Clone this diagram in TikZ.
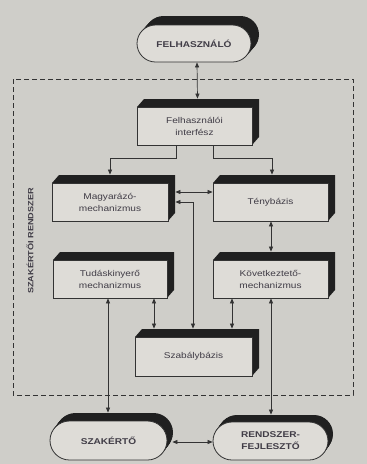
\documentclass[tikz,border=0pt]{standalone}
\usepackage{fontspec}
\newfontfamily\lab[FakeStretch=1.2]{Liberation Sans}
\usetikzlibrary{calc,arrows.meta}
\definecolor{bgc}{HTML}{CFCEC9}
\definecolor{facec}{HTML}{DEDCD7}
\definecolor{shc}{HTML}{202020}
\definecolor{linec}{HTML}{333333}
\definecolor{txtc}{HTML}{403C46}
\tikzset{
  ebx/.style={draw=linec, line width=0.8pt, fill=facec, rectangle, inner sep=0pt,
    align=center, text=txtc, font=\lab\fontsize{8.4}{12}\selectfont},
  pillbx/.style={ebx, font=\lab\bfseries\fontsize{8.4}{12}\selectfont},
  conn/.style={draw=linec, line width=0.7pt},
  arr/.style={conn, -{Triangle[length=5pt,width=4pt]}},
  darr/.style={conn, {Triangle[length=5pt,width=4pt]}-{Triangle[length=5pt,width=4pt]}},
}
% name, cx, cy, w, h, text
\newcommand\ebox[6]{%
  \fill[shc] (#2-#4/2,#3-#5/2) -- ++(7,-8) -- ++(#4,0) -- ++(0,#5) -- ++(-7,8) -- cycle;
  \node[ebx, minimum width=#4pt, minimum height=#5pt] (#1) at (#2,#3) {#6};
}
% name, cx, cy, w, h, dx, dy, text
\newcommand\epill[8]{%
  \foreach \t in {0.1,0.2,...,1.0}{
    \fill[shc, rounded corners=#5/2*1pt] (#2-#4/2+\t*#6,#3-#5/2+\t*#7) rectangle ++(#4,#5);
  }
  \node[pillbx, minimum width=#4pt, minimum height=#5pt, rounded corners=#5/2*1pt] (#1) at (#2,#3) {#8};
}
\begin{document}
\begin{tikzpicture}[x=1pt,y=-1pt]
\fill[bgc] (0,0) rectangle (367,464);
\useasboundingbox (0,0) rectangle (367,464);
% dashed frame
\draw[linec, line width=0.8pt, dash pattern=on 5pt off 3pt] (13,79) rectangle (353,395);
\node[rotate=90, text=txtc, font=\lab\bfseries\fontsize{7.6}{8}\selectfont] (lbl) at (30,241) {SZAKÉRTŐI RENDSZER};
% nodes
\epill{felh}{194}{43.5}{114}{37}{8}{-9}{FELHASZNÁLÓ}
\ebox{iface}{194.5}{126}{115}{38}{Felhasználói\\interfész}
\ebox{magy}{110}{202}{116}{38}{Magyarázó-\\mechanizmus}
\ebox{teny}{270.5}{202}{115}{38}{Ténybázis}
\ebox{tud}{110}{279}{114}{38}{Tudáskinyerő\\mechanizmus}
\ebox{kov}{270.5}{279}{115}{38}{Következtető-\\mechanizmus}
\ebox{szab}{193.5}{356.5}{117}{39}{Szabálybázis}
\epill{szak}{108.5}{440.5}{117}{39}{6}{-8}{SZAKÉRTŐ}
\epill{rend}{270.5}{441}{115}{38}{5}{-7}{RENDSZER-\\FEJLESZTŐ}
% connectors
\draw[darr] ($(felh.south)+(3,0)$) -- ($(iface.north)+(3,-8)$);
\draw[arr] ($(iface.south)+(-18.5,0)$) -- ++(0,13) -| ($(magy.north)+(0,-8)$);
\draw[arr] ($(iface.south)+(18.5,0)$) -- ++(0,13) -| ($(teny.north)+(1.5,-8)$);
\draw[darr] ($(magy.east)+(7,-10)$) -- ($(magy.east -| teny.west)+(0,-10)$);
\draw[darr] ($(magy.east)+(7,0)$) -| ($(szab.north)+(-0.5,-8)$);
\draw[darr] ($(teny.south)+(0.5,0)$) -- ($(kov.north)+(0.5,-8)$);
\draw[darr] ($(tud.south)+(-2,0)$) -- ($(tud.south |- szak.north)+(-2,-8)$);
\draw[darr] ($(tud.south)+(44,0)$) -- ($(tud.south |- szab.north)+(44,-8)$);
\draw[darr] ($(kov.south)+(-38.5,0)$) -- ($(kov.south |- szab.north)+(-38.5,-8)$);
\draw[darr] ($(kov.south)+(0.5,0)$) -- ($(kov.south |- rend.north)+(0.5,-7)$);
\draw[darr] ($(szak.east)+(5,1.5)$) -- ($(szak.east -| rend.west)+(0,1.5)$);
\end{tikzpicture}
\end{document}
